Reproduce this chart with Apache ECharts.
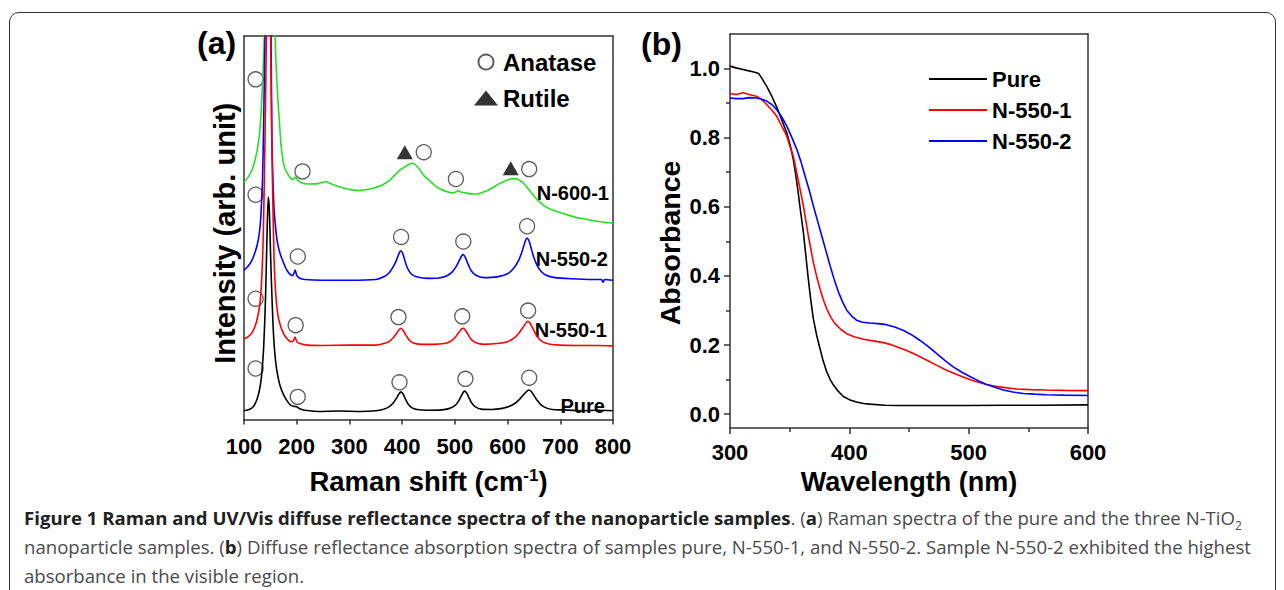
<!DOCTYPE html>
<html>
<head>
<meta charset="utf-8">
<title>Raman and UV/Vis spectra</title>
<script src="https://cdn.jsdelivr.net/npm/echarts@6/dist/echarts.min.js"></script>
<style>
html, body { margin: 0; padding: 0; background: #fff; }
#wrap { position: relative; width: 1284px; height: 590px; overflow: hidden; }
#frame {
  position: absolute; left: 9px; top: 12px; width: 1267px; height: 620px;
  border: 1.5px solid #333; border-radius: 10px; box-sizing: border-box;
}
#chart { position: absolute; left: 0; top: 0; width: 1284px; height: 500px; }
#caption {
  position: absolute; left: 24px; top: 503px;
  font-family: 'Open Sans', sans-serif; font-size: 18.6px; line-height: 29px;
  color: #4a4a4a; white-space: nowrap;
}
#caption b { color: #222; }
#caption sub { font-size: 12px; line-height: 0; }
</style>
</head>
<body>
<div id="wrap">
  <div id="frame"></div>
  <div id="chart"></div>
  <div id="caption">
    <b>Figure 1 Raman and UV/Vis diffuse reflectance spectra of the nanoparticle samples</b>. (<b>a</b>) Raman spectra of the pure and the three N-TiO<sub>2</sub><br>
    nanoparticle samples. (<b>b</b>) Diffuse reflectance absorption spectra of samples pure, N-550-1, and N-550-2. Sample N-550-2 exhibited the highest<br>
    absorbance in the visible region.
  </div>
</div>
<script>
// (a) Raman spectra: [raman shift cm-1, intensity (arb. unit, offset stacked)]
const ramanPure = [
  [100, 2.3], [110, 2.6], [118, 3.4], [124, 5.0], [129, 7.5], [133, 11], [137, 18], [140, 28],
  [142, 38], [144, 50], [146, 58], [148, 55], [150, 45], [152, 36], [155, 25], [158, 18],
  [162, 13], [168, 9], [175, 6.5], [183, 4.6], [190, 3.6], [196, 3.4], [200, 3.3], [206, 2.8],
  [215, 2.4], [240, 2.1], [280, 2.2], [320, 2.1], [350, 2.3], [365, 2.7], [375, 3.3], [383, 4.3],
  [389, 5.5], [394, 6.7], [398, 7.2], [402, 6.6], [406, 5.4], [411, 4.1], [418, 3.1], [428, 2.6],
  [450, 2.4], [475, 2.5], [490, 2.9], [500, 3.6], [507, 4.8], [512, 6.1], [516, 7.1], [519, 7.4],
  [523, 6.8], [527, 5.6], [532, 4.3], [539, 3.3], [550, 2.7], [570, 2.6], [590, 2.9], [605, 3.5],
  [615, 4.3], [623, 5.3], [630, 6.4], [636, 7.3], [640, 7.7], [645, 7.3], [650, 6.3], [656, 5.0],
  [663, 3.9], [672, 3.1], [685, 2.6], [705, 2.5], [740, 2.3], [770, 2.4], [800, 2.3]
]
const raman5501 = [
  [100, 21.0], [108, 21.6], [115, 22.6], [121, 24.3], [126, 26.8], [130, 30], [133, 35], [136, 45],
  [138, 58], [140, 75], [142, 95], [144, 118], [146, 130], [148, 125], [150, 105], [152, 80],
  [154, 62], [157, 42], [160, 33], [164, 27.5], [169, 24.5], [175, 22.4], [182, 21.0], [189, 20.3],
  [193, 20.4], [197, 21.5], [200, 20.3], [206, 19.8], [220, 19.4], [250, 19.3], [300, 19.4],
  [350, 19.4], [365, 19.8], [375, 20.3], [383, 21.3], [389, 22.4], [394, 23.4], [398, 23.8],
  [402, 23.2], [407, 22.0], [413, 20.8], [420, 20.0], [435, 19.6], [460, 19.6], [480, 19.8],
  [492, 20.4], [500, 21.3], [507, 22.6], [512, 23.5], [516, 23.8], [520, 23.3], [525, 22.2],
  [531, 20.9], [540, 20.0], [555, 19.6], [580, 19.8], [600, 20.3], [612, 21.2], [621, 22.4],
  [628, 23.8], [634, 25.0], [638, 25.6], [642, 25.2], [647, 24.0], [652, 22.6], [658, 21.3],
  [666, 20.3], [678, 19.7], [700, 19.4], [740, 19.3], [770, 19.3], [800, 19.2]
]
const raman5502 = [
  [100, 38.9], [108, 40.0], [115, 41.5], [120, 43.2], [125, 45.5], [129, 48.5], [132, 53], [135, 62],
  [137, 75], [139, 92], [141, 110], [143, 130], [146, 145], [149, 130], [151, 105], [153, 72],
  [155, 62], [157, 55], [160, 50], [163, 46.5], [168, 43.5], [174, 41.2], [181, 39.0], [187, 37.9],
  [192, 37.5], [195, 38.2], [197, 39.0], [200, 37.6], [205, 36.9], [215, 36.5], [250, 36.3],
  [300, 36.3], [350, 36.5], [365, 37.2], [375, 38.2], [383, 39.8], [389, 41.5], [394, 43.3],
  [397, 44.0], [401, 43.3], [405, 41.5], [410, 39.5], [417, 38.0], [427, 37.2], [450, 36.8],
  [470, 36.9], [485, 37.5], [495, 38.5], [503, 40.0], [509, 41.6], [513, 42.7], [516, 43.0],
  [520, 42.2], [525, 40.5], [531, 38.8], [540, 37.6], [555, 37.0], [580, 37.2], [600, 38.0],
  [612, 39.5], [621, 41.5], [628, 44.0], [633, 46.3], [637, 47.3], [641, 46.5], [645, 44.5],
  [650, 42.2], [656, 40.2], [663, 38.7], [672, 37.7], [690, 37.0], [720, 36.7], [760, 36.5],
  [778, 36.5], [781, 35.8], [784, 36.5], [800, 36.3]
]
const raman6001 = [
  [100, 61.9], [108, 63.2], [115, 65.0], [120, 67.2], [125, 70.2], [129, 74], [132, 79], [135, 87],
  [138, 98], [141, 115], [144, 135], [148, 150], [152, 140], [155, 120], [158, 103], [161, 92],
  [164, 84], [167, 78], [170, 72], [174, 67.5], [178, 65.3], [183, 64.0], [188, 63.0], [193, 62.5],
  [197, 63.2], [202, 62.4], [208, 61.8], [220, 61.4], [240, 61.5], [255, 62.0], [265, 61.5],
  [282, 60.6], [300, 60.0], [315, 59.7], [330, 59.9], [345, 60.3], [360, 61.0], [375, 62.2],
  [388, 64.0], [398, 65.3], [408, 66.1], [414, 66.6], [420, 66.8], [426, 66.3], [433, 65.2],
  [442, 63.5], [452, 62.3], [462, 61.0], [472, 60.1], [485, 59.4], [495, 59.1], [502, 59.3],
  [506, 59.7], [510, 59.4], [520, 59.1], [532, 58.8], [542, 58.8], [552, 59.2], [562, 59.7],
  [572, 60.5], [582, 61.3], [592, 62.0], [602, 62.6], [612, 62.8], [620, 62.6], [628, 61.9],
  [636, 60.7], [643, 59.5], [650, 58.3], [660, 56.8], [672, 55.5], [685, 54.6], [700, 53.9],
  [720, 53.1], [740, 52.4], [760, 51.9], [780, 51.5], [800, 51.2]
]
// peak assignments drawn above the curves
const anatasePts = [
  [122, 88.7], [122, 58.6], [122, 31.5], [122, 13.3],
  [211, 64.7], [202, 42.5], [198, 24.6], [202, 5.9],
  [441, 69.7], [502, 62.7], [641, 65.3],
  [398, 47.6], [516, 46.4], [637, 50.4],
  [393, 26.7], [514, 26.9], [639, 28.4],
  [395, 9.7], [520, 10.6], [641, 10.9]
]
const rutilePts = [[405, 69.7], [606, 65.5]]

// (b) UV/Vis absorption: [wavelength nm, absorbance]
const uvPure = [
  [300, 1.007], [305, 1.002], [310, 0.998], [315, 0.994], [320, 0.99], [324, 0.986], [327, 0.97],
  [331, 0.947], [335, 0.92], [339, 0.89], [343, 0.855], [347.5, 0.815], [351, 0.77], [353, 0.738],
  [355, 0.695], [357, 0.645], [359, 0.59], [361.5, 0.526], [363.5, 0.46], [365.6, 0.392],
  [367.7, 0.33], [369.8, 0.277], [372.5, 0.23], [375.4, 0.19], [378, 0.155], [381, 0.123],
  [384, 0.1], [386.6, 0.085], [390, 0.069], [395, 0.051], [400, 0.042], [406, 0.035], [412, 0.031],
  [417, 0.029], [430, 0.026], [440, 0.025], [470, 0.025], [500, 0.025], [530, 0.026], [560, 0.026],
  [600, 0.027]
]
const uv5501 = [
  [300, 0.928], [305, 0.925], [311, 0.93], [316, 0.925], [322, 0.92], [326, 0.912], [330.7, 0.896],
  [335, 0.88], [339, 0.863], [343, 0.836], [347.5, 0.805], [350, 0.777], [353, 0.747], [357, 0.68],
  [361.5, 0.603], [365.6, 0.517], [369.8, 0.44], [372.5, 0.4], [375.4, 0.363], [378, 0.333],
  [381, 0.305], [384.5, 0.28], [388, 0.262], [393, 0.245], [397.8, 0.233], [404, 0.224],
  [411.7, 0.217], [420, 0.212], [428.5, 0.207], [434, 0.202], [439.7, 0.195], [448, 0.184],
  [456.4, 0.171], [465, 0.156], [473, 0.142], [481, 0.128], [490, 0.115], [498, 0.104],
  [506.7, 0.094], [515, 0.086], [523.5, 0.08], [532, 0.076], [540, 0.073], [552, 0.071],
  [565, 0.07], [580, 0.069], [600, 0.068]
]
const uv5502 = [
  [300, 0.915], [305, 0.913], [311, 0.913], [316, 0.916], [322, 0.915], [326, 0.912], [330.7, 0.906],
  [335, 0.896], [339, 0.882], [343, 0.862], [347.5, 0.834], [351.5, 0.803], [355.9, 0.767],
  [359.5, 0.73], [362.8, 0.69], [366.5, 0.647], [369.8, 0.603], [373.3, 0.56], [376.8, 0.517],
  [380.3, 0.474], [383.8, 0.43], [387.3, 0.39], [390.8, 0.354], [394.3, 0.325], [397.8, 0.301],
  [402, 0.284], [406, 0.272], [411, 0.266], [417, 0.264], [424, 0.262], [431, 0.259], [438, 0.252],
  [445, 0.243], [452, 0.23], [459, 0.214], [466, 0.196], [473, 0.176], [480, 0.156], [487, 0.137],
  [494, 0.122], [501, 0.109], [508, 0.097], [515, 0.086], [522, 0.078], [529, 0.07], [537, 0.064],
  [545.8, 0.06], [555, 0.058], [565, 0.056], [580, 0.055], [600, 0.054]
]
const absMajorTicks = [0, 0.2, 0.4, 0.6, 0.8, 1.0]
const absMinorTicks = [0.1, 0.3, 0.5, 0.7, 0.9]

const font = "'Liberation Sans', Arial, sans-serif"
const axisLineStyle = { color: '#333', width: 1.5 }
const labelStyle = { fontSize: 22, fontWeight: 'bold', color: '#000', fontFamily: font }
const nameStyle = { fontSize: 27, fontWeight: 'bold', color: '#000', fontFamily: font }

// frame-only axes for the top / right sides of each box
function frameAxis(gridIndex, position, min, max) {
  return {
    gridIndex,
    position,
    type: 'value',
    min,
    max,
    axisLine: { show: true, onZero: false, lineStyle: axisLineStyle },
    axisTick: { show: false },
    axisLabel: { show: false },
    splitLine: { show: false }
  }
}

function ramanLine(name, data, color) {
  return {
    name,
    type: 'line',
    xAxisIndex: 0,
    yAxisIndex: 0,
    data,
    symbol: 'none',
    smooth: 0.2,
    clip: true,
    lineStyle: { color, width: 1.6 }
  }
}

function uvLine(name, data, color) {
  return {
    name,
    type: 'line',
    xAxisIndex: 2,
    yAxisIndex: 2,
    data,
    symbol: 'none',
    itemStyle: { color },
    lineStyle: { color, width: 1.6 }
  }
}

const chart = echarts.init(document.getElementById('chart'), null, { renderer: 'svg' })

const option = {
  animation: false,
  grid: [
    { left: 244, top: 36, width: 369, height: 391 },
    { left: 730, top: 34, width: 358, height: 396 }
  ],
  xAxis: [
    {
      gridIndex: 0,
      type: 'value',
      min: 100,
      max: 800,
      interval: 100,
      axisLine: { onZero: false, lineStyle: axisLineStyle },
      axisTick: { length: 5, lineStyle: axisLineStyle },
      axisLabel: Object.assign({ margin: 16 }, labelStyle),
      splitLine: { show: false },
      name: 'Raman shift (cm{sup|-1})',
      nameLocation: 'middle',
      nameGap: 47,
      nameTextStyle: Object.assign({}, nameStyle, {
        fontSize: 27.5,
        rich: { sup: { fontSize: 17, fontWeight: 'bold', color: '#000', fontFamily: font, verticalAlign: 'top', padding: [0, 0, 12, 0] } }
      })
    },
    frameAxis(0, 'top', 100, 800),
    {
      gridIndex: 1,
      type: 'value',
      min: 300,
      max: 600,
      interval: 100,
      axisLine: { onZero: false, lineStyle: axisLineStyle },
      axisTick: { length: 6, lineStyle: axisLineStyle },
      minorTick: { show: true, splitNumber: 2, length: 4, lineStyle: axisLineStyle },
      axisLabel: Object.assign({ margin: 13 }, labelStyle),
      splitLine: { show: false },
      name: 'Wavelength (nm)',
      nameLocation: 'middle',
      nameGap: 40,
      nameTextStyle: nameStyle
    },
    frameAxis(1, 'top', 300, 600)
  ],
  yAxis: [
    {
      gridIndex: 0,
      position: 'left',
      type: 'value',
      min: 0,
      max: 100,
      axisLine: { show: true, onZero: false, lineStyle: axisLineStyle },
      axisTick: { show: false },
      axisLabel: { show: false },
      splitLine: { show: false },
      name: 'Intensity (arb. unit)',
      nameLocation: 'middle',
      nameGap: 5,
      nameTextStyle: Object.assign({}, nameStyle, { fontSize: 29, padding: [0, 11, 0, 0] })
    },
    frameAxis(0, 'right', 0, 100),
    {
      gridIndex: 1,
      position: 'left',
      type: 'value',
      min: -0.04,
      max: 1.1,
      axisLine: { show: true, onZero: false, lineStyle: axisLineStyle },
      axisTick: { length: 6, customValues: absMajorTicks, lineStyle: axisLineStyle },
      axisLabel: Object.assign({
        margin: 10,
        customValues: absMajorTicks,
        formatter: v => v.toFixed(1)
      }, labelStyle),
      splitLine: { show: false },
      name: 'Absorbance',
      nameLocation: 'middle',
      nameGap: 46,
      nameTextStyle: Object.assign({}, nameStyle, { fontSize: 28.5, padding: [0, 24, 0, 0] })
    },
    frameAxis(1, 'right', -0.04, 1.1),
    {
      // minor ticks of the absorbance axis
      gridIndex: 1,
      position: 'left',
      type: 'value',
      min: -0.04,
      max: 1.1,
      axisLine: { show: false, onZero: false },
      axisTick: { length: 4, customValues: absMinorTicks, lineStyle: axisLineStyle },
      axisLabel: { show: false, customValues: absMinorTicks },
      splitLine: { show: false }
    }
  ],
  legend: [
    {
      data: ['Anatase', 'Rutile'],
      orient: 'vertical',
      left: 469,
      top: 45,
      itemWidth: 24,
      itemHeight: 15,
      itemGap: 12,
      selectedMode: false,
      textStyle: { fontSize: 24, fontWeight: 'bold', color: '#000', fontFamily: font, lineHeight: 24 }
    },
    {
      data: ['Pure', 'N-550-1', 'N-550-2'],
      orient: 'vertical',
      left: 924,
      top: 63,
      icon: 'rect',
      itemWidth: 58,
      itemHeight: 2,
      itemGap: 9,
      selectedMode: false,
      textStyle: { fontSize: 22, fontWeight: 'bold', color: '#000', fontFamily: font, lineHeight: 22 }
    }
  ],
  graphic: [
    { type: 'text', x: 197, y: 43, style: { text: '(a)', fontSize: 32, fontWeight: 'bold', fontFamily: font, fill: '#000', verticalAlign: 'middle' } },
    { type: 'text', x: 641, y: 44, style: { text: '(b)', fontSize: 32, fontWeight: 'bold', fontFamily: font, fill: '#000', verticalAlign: 'middle' } },
    { type: 'text', x: 609, y: 193, style: { text: 'N-600-1', fontSize: 20, fontWeight: 'bold', fontFamily: font, fill: '#000', align: 'right', verticalAlign: 'middle' } },
    { type: 'text', x: 608, y: 259, style: { text: 'N-550-2', fontSize: 20, fontWeight: 'bold', fontFamily: font, fill: '#000', align: 'right', verticalAlign: 'middle' } },
    { type: 'text', x: 607, y: 330, style: { text: 'N-550-1', fontSize: 20, fontWeight: 'bold', fontFamily: font, fill: '#000', align: 'right', verticalAlign: 'middle' } },
    { type: 'text', x: 605, y: 406, style: { text: 'Pure', fontSize: 20, fontWeight: 'bold', fontFamily: font, fill: '#000', align: 'right', verticalAlign: 'middle' } }
  ],
  series: [
    ramanLine('Raman N-600-1', raman6001, '#22e022'),
    ramanLine('Raman N-550-2', raman5502, '#0000ff'),
    ramanLine('Raman N-550-1', raman5501, '#ff0000'),
    ramanLine('Raman Pure', ramanPure, '#000000'),
    {
      name: 'Anatase',
      type: 'scatter',
      xAxisIndex: 0,
      yAxisIndex: 0,
      data: anatasePts,
      symbol: 'circle',
      symbolSize: 15,
      itemStyle: { color: 'rgba(255,255,255,0)', borderColor: '#333', borderWidth: 1.3 }
    },
    {
      name: 'Rutile',
      type: 'scatter',
      xAxisIndex: 0,
      yAxisIndex: 0,
      data: rutilePts,
      symbol: 'triangle',
      symbolSize: [16, 14],
      itemStyle: { color: '#000' }
    },
    uvLine('Pure', uvPure, '#000000'),
    uvLine('N-550-1', uv5501, '#ff0000'),
    uvLine('N-550-2', uv5502, '#0000ff')
  ]
}

chart.setOption(option)
</script>
</body>
</html>
